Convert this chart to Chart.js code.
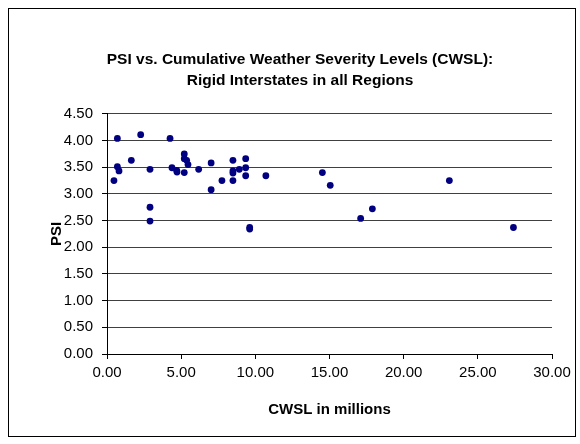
<!DOCTYPE html>
<html>
<head>
<meta charset="utf-8">
<script src="https://cdn.jsdelivr.net/npm/chart.js@4.4.1/dist/chart.umd.min.js"></script>
<style>
  body { margin: 0; background: #fff; }
  #wrap { width: 580px; height: 444px; }
</style>
</head>
<body>
<div id="wrap"><canvas id="psiChart" width="580" height="444"></canvas></div>
<script>
// CWSL (millions) and PSI
const cwsl = [0.47, 0.70, 0.70, 0.81, 1.64, 2.27, 2.90, 2.90, 2.90, 4.25,
              4.38, 4.70, 4.72, 5.21, 5.21, 5.37, 5.46, 5.21, 6.18, 7.02,
              7.02, 7.75, 8.49, 8.49, 8.49, 8.49, 8.92, 9.35, 9.35, 9.35,
              9.62, 9.62, 10.71, 14.52, 15.05, 17.10, 17.89, 23.08, 27.40];
const psi = [3.25, 4.04, 3.51, 3.43, 3.63, 4.11, 3.46, 2.75, 2.49, 4.04,
             3.49, 3.44, 3.41, 3.75, 3.66, 3.63, 3.55, 3.40, 3.46, 3.58,
             3.08, 3.25, 3.63, 3.43, 3.39, 3.25, 3.46, 3.66, 3.49, 3.34,
             2.37, 2.34, 3.34, 3.40, 3.16, 2.54, 2.72, 3.25, 2.37];
const titleLines = ['PSI vs. Cumulative Weather Severity Levels (CWSL):', 'Rigid Interstates in all Regions'];

const points = cwsl.map((x, i) => ({ x: x, y: psi[i] }));

const chartBorder = {
    id: 'chartBorder',
    afterDraw(chart) {
        const c = chart.ctx;
        c.save();
        c.strokeStyle = '#000';
        c.lineWidth = 1;
        c.strokeRect(8.5, 8.5, 567, 428);
        c.restore();
    }
};

Chart.defaults.font.family = 'Liberation Sans, Arial, sans-serif';
Chart.defaults.color = '#000';

new Chart(document.getElementById('psiChart'), {
    type: 'scatter',
    data: {
        datasets: [{
            data: points,
            backgroundColor: '#000080',
            borderColor: '#000080',
            pointRadius: 3.4,
            pointBorderWidth: 0
        }]
    },
    plugins: [chartBorder],
    options: {
        responsive: false,
        animation: false,
        layout: { padding: { top: 49, right: 28, bottom: 20, left: 48 } },
        plugins: {
            legend: { display: false },
            tooltip: { enabled: false },
            title: {
                display: true,
                text: titleLines,
                font: { size: 15.5, weight: 'bold', lineHeight: 1.35 },
                padding: { top: 0, bottom: 23 }
            }
        },
        scales: {
            x: {
                type: 'linear',
                min: 0,
                max: 30,
                afterFit: (s) => { s.height = 70; },
                ticks: {
                    stepSize: 5,
                    padding: 5,
                    font: { size: 15 },
                    callback: (v) => v.toFixed(2)
                },
                grid: { drawOnChartArea: false, tickColor: '#000', tickLength: 5 },
                border: { color: '#000' },
                title: {
                    display: true,
                    text: 'CWSL in millions',
                    font: { size: 15, weight: 'bold' },
                    padding: { top: 0, bottom: 5 }
                }
            },
            y: {
                min: 0,
                max: 4.5,
                afterFit: (s) => { s.width = 59; },
                ticks: {
                    stepSize: 0.5,
                    padding: 9,
                    font: { size: 15 },
                    callback: (v) => v.toFixed(2)
                },
                grid: { color: '#404040', tickColor: '#000', tickLength: 5 },
                border: { color: '#000' },
                title: {
                    display: true,
                    text: 'PSI',
                    font: { size: 15, weight: 'bold' },
                    padding: 0
                }
            }
        }
    }
});
</script>
</body>
</html>
